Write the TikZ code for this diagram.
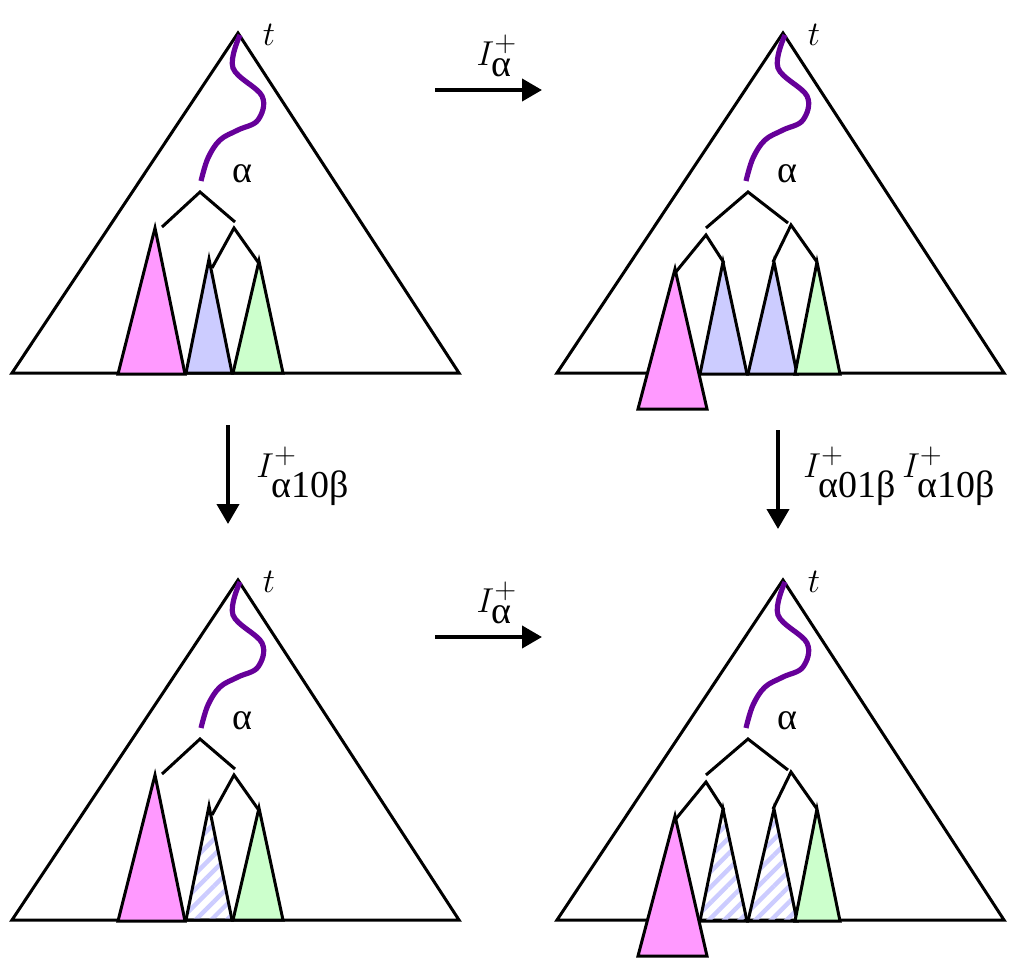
\documentclass[tikz,border=0pt]{standalone}
\usepackage{fontspec}
\setmainfont{Liberation Serif}
\usepackage{amsmath}
\usetikzlibrary{arrows.meta, patterns.meta}
\definecolor{pathpurple}{RGB}{102, 0, 153}
\definecolor{subpink}{RGB}{255, 153, 255}
\definecolor{subblue}{RGB}{204, 204, 255}
\definecolor{subgreen}{RGB}{204, 255, 204}

% big tree with the path from the root t down to alpha
\newcommand{\outertree}[1]{%
  \draw[edge] (12,373) -- (238,33) -- (459,373) -- cycle;
  \draw[wiggle] plot[smooth, tension=0.6] coordinates {(240,35) (233,68) (262,96) (258,120) (238,130) (220,140) (208,158) (201,181)};
  \node[lbl] (t#1) at (269,35) {$t$};
  \node[lbl] (alpha#1) at (242,174) {α};
}
% before: alpha with two children
\newcommand{\treebefore}[1]{%
  \draw[edge] (162,227) -- (200,192) -- (235,222);
  \draw[edge] (212,268) -- (234,228) -- (258,262);
  \draw[edge, #1] (186,373) -- (209,259) -- (232,373) -- cycle;
  \draw[edge, fill=subgreen] (233,373) -- (259,261) -- (283,373) -- cycle;
  \draw[edge, fill=subpink] (118,374) -- (155,228) -- (185,374) -- cycle;
}
% after: alpha with four grandchildren
\newcommand{\treeafter}[1]{%
  \draw[edge] (161,228) -- (203,192) -- (243,223);
  \draw[edge] (130,273) -- (161,235) -- (179,263);
  \draw[edge] (228,262) -- (246,225) -- (272,262);
  \draw[edge, #1] (155,374) -- (178,262) -- (202,374) -- cycle;
  \draw[edge, #1] (203,374) -- (229,262) -- (252,374) -- cycle;
  \draw[edge, fill=subgreen] (250,374) -- (272,262) -- (295,374) -- cycle;
  \draw[edge, fill=subpink] (93,409) -- (130,269) -- (162,409) -- cycle;
}

\begin{document}
\begin{tikzpicture}[
  x=0.5pt, y=-0.5pt,
  edge/.style={line width=1.5pt, line join=miter},
  wiggle/.style={line width=2.6pt, pathpurple},
  lbl/.style={font=\fontsize{19}{21}\selectfont, inner sep=1pt},
  hatched/.style={pattern={Lines[angle=45, distance=5.5pt, line width=2.2pt]}, pattern color=subblue},
  plain/.style={fill=subblue},
  move/.style={-{Triangle[length=10pt, width=11pt]}, line width=2pt}
]
  \fill[white] (0,0) rectangle (1009,960);
  \useasboundingbox (0,0) rectangle (1009,960);

  \begin{scope}
    \outertree{tl}
    \treebefore{plain}
  \end{scope}
  \begin{scope}[shift={(545,0)}]
    \outertree{tr}
    \treeafter{plain}
  \end{scope}
  \begin{scope}[shift={(0,547)}]
    \outertree{bl}
    \treebefore{hatched}
  \end{scope}
  \begin{scope}[shift={(545,547)}]
    \outertree{br}
    \treeafter{hatched}
  \end{scope}

  % arrows between the four states
  \coordinate (topfrom) at (435,90);
  \coordinate (topto) at (542,90);
  \coordinate (botfrom) at (435,637);
  \coordinate (botto) at (542,637);
  \coordinate (leftfrom) at (228,425);
  \coordinate (leftto) at (228,524);
  \coordinate (rightfrom) at (778,430);
  \coordinate (rightto) at (778,529);

  \draw[move] (topfrom) -- (topto);
  \draw[move] (botfrom) -- (botto);
  \draw[move] (leftfrom) -- (leftto);
  \draw[move] (rightfrom) -- (rightto);

  \node[lbl] (toplabel) at (497,56) {$I^+_{\mbox{α}}$};
  \node[lbl] (botlabel) at (497,603) {$I^+_{\mbox{α}}$};
  \node[lbl, anchor=west] (leftlabel) at (254,476) {$I^+_{\mbox{α10β}}$};
  \node[lbl, anchor=west] (rightlabel) at (801,476) {$I^+_{\mbox{α01β}}\,I^+_{\mbox{α10β}}$};
\end{tikzpicture}
\end{document}
